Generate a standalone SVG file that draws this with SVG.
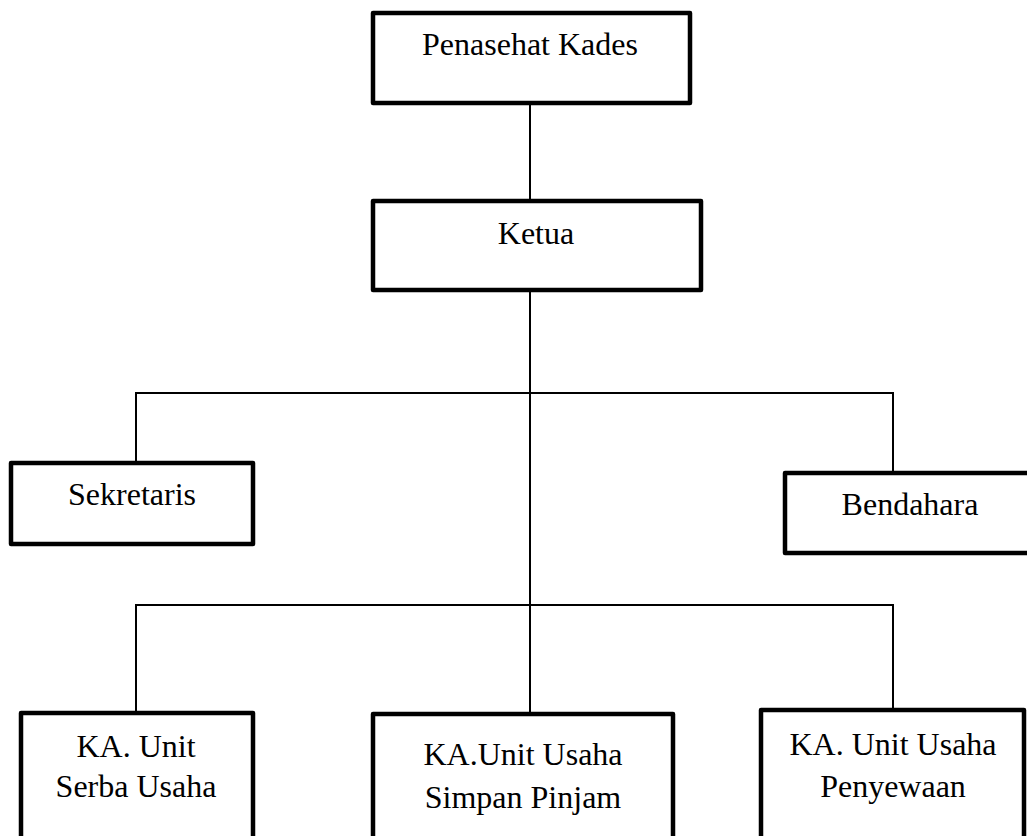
<svg xmlns="http://www.w3.org/2000/svg" width="1027" height="836" viewBox="0 0 1027 836">
<style>
.box{fill:#fff;stroke:#000;stroke-width:4.5;stroke-linejoin:round}
.lbl{font-family:"Liberation Serif","Times New Roman",serif;font-size:32px;fill:#000;text-anchor:middle}
.conn line{stroke:#000;stroke-width:2}
</style>
<rect width="1027" height="836" fill="#fff"/>
<g id="connectors" class="conn">
<line x1="530" y1="105" x2="530" y2="201"/>
<line x1="530" y1="292" x2="530" y2="712"/>
<line x1="135" y1="393" x2="894" y2="393"/>
<line x1="136" y1="393" x2="136" y2="461"/>
<line x1="893" y1="393" x2="893" y2="471"/>
<line x1="135" y1="605" x2="894" y2="605"/>
<line x1="136" y1="605" x2="136" y2="711"/>
<line x1="893" y1="605" x2="893" y2="708"/>
</g>
<g id="penasehat">
<rect class="box" x="373" y="13" width="317" height="90"/>
<text class="lbl" x="530" y="55">Penasehat Kades</text>
</g>
<g id="ketua">
<rect class="box" x="373" y="201" width="328" height="89"/>
<text class="lbl" x="536" y="244">Ketua</text>
</g>
<g id="sekretaris">
<rect class="box" x="11" y="463" width="242" height="81"/>
<text class="lbl" x="132" y="505">Sekretaris</text>
</g>
<g id="bendahara">
<rect class="box" x="785" y="473" width="250" height="80"/>
<text class="lbl" x="910" y="515">Bendahara</text>
</g>
<g id="unit-serba-usaha">
<rect class="box" x="21" y="713" width="232" height="140"/>
<text class="lbl" x="136" y="757">KA. Unit</text>
<text class="lbl" x="136" y="797">Serba Usaha</text>
</g>
<g id="unit-simpan-pinjam">
<rect class="box" x="373" y="714" width="300" height="140"/>
<text class="lbl" x="523" y="765">KA.Unit Usaha</text>
<text class="lbl" x="523" y="808">Simpan Pinjam</text>
</g>
<g id="unit-penyewaan">
<rect class="box" x="761" y="710" width="263" height="140"/>
<text class="lbl" x="893" y="755">KA. Unit Usaha</text>
<text class="lbl" x="893" y="797">Penyewaan</text>
</g>
</svg>
